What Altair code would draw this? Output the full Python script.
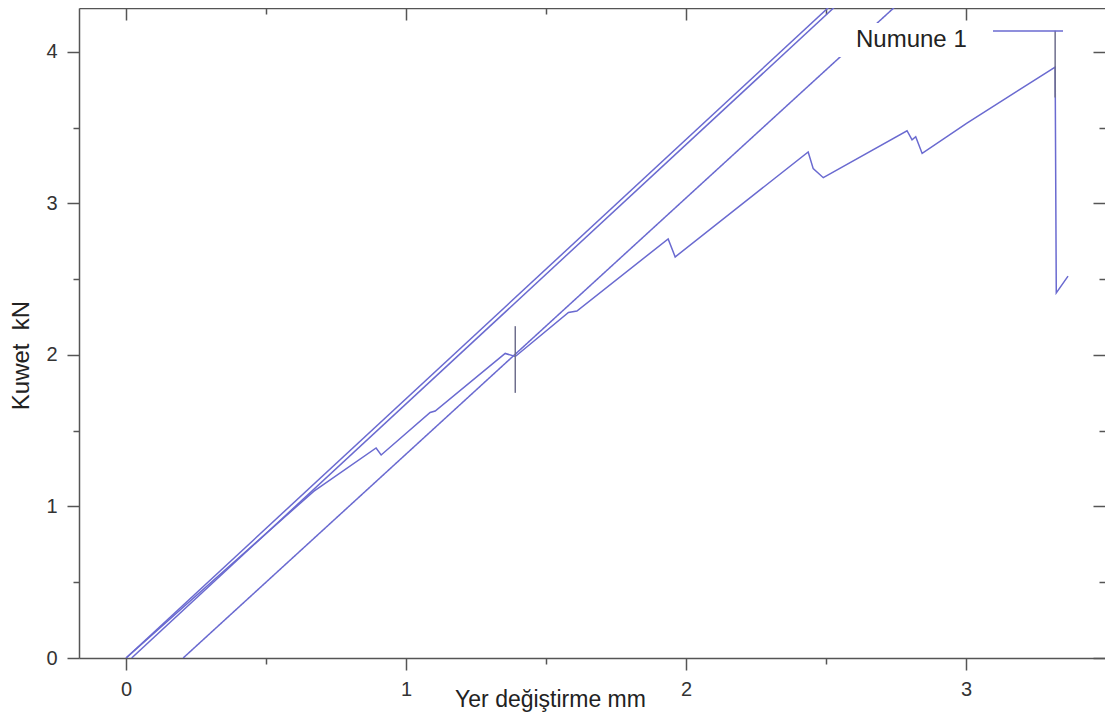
import altair as alt
import pandas as pd

# ---------------- data ----------------
# sawtooth load-displacement curve (Numune 1)
d_x = [0.0, 0.67, 0.893, 0.911, 1.086, 1.104, 1.354, 1.39, 1.58, 1.61, 1.936, 1.961,
       2.436, 2.454, 2.49, 2.789, 2.807, 2.82, 2.843, 3.003, 3.318, 3.322, 3.364]
d_y = [0.0, 1.10, 1.386, 1.34, 1.62, 1.63, 2.01, 1.99, 2.28, 2.29, 2.766, 2.647,
       3.34, 3.23, 3.17, 3.48, 3.42, 3.44, 3.33, 3.53, 3.90, 2.41, 2.52]

# straight loading lines
a_x = [0.0, 2.60]
a_y = [0.0, 4.45]
b_x = [0.02, 2.62]
b_y = [0.0, 4.45]
c_x = [0.204, 2.83]
c_y = [0.0, 4.44]

# vertical bars
e_x = [1.39, 3.318]
e_lo = [1.75, 3.70]
e_hi = [2.19, 4.14]

series_name = "Numune 1"
x_title = "Yer değiştirme mm"
y_title = "Kuwet\u00a0\u00a0kN"

x_major = [0, 1, 2, 3]
x_minor = [0.5, 1.5, 2.5]
y_major = [0, 1, 2, 3, 4]
y_minor = [0.5, 1.5, 2.5, 3.5]

X_DOMAIN = [-0.168, 3.496]
Y_DOMAIN = [0.0, 4.29]

# ---------------- tables ----------------
df_d = pd.DataFrame({"x": d_x, "y": d_y, "i": range(len(d_x)), "series": series_name})
df_ab = pd.DataFrame({
    "x": a_x + b_x,
    "y": a_y + b_y,
    "line": ["A"] * len(a_x) + ["B"] * len(b_x),
    "i": list(range(len(a_x))) + list(range(len(b_x))),
})
df_c = pd.DataFrame({"x": c_x, "y": c_y, "i": range(len(c_x)), "lbl": series_name})
df_e = pd.DataFrame({"x": e_x, "lo": e_lo, "hi": e_hi})

# ---------------- styling ----------------
FONT = "Liberation Sans"
LINE = "#6a6ad0"
AXC = "#555555"

xs = alt.Scale(domain=X_DOMAIN, nice=False, zero=False)
ys = alt.Scale(domain=Y_DOMAIN, nice=False, zero=False)

common = dict(grid=False, tickColor=AXC, tickWidth=1.5, domainColor=AXC, domainWidth=1.5)
plain = dict(labels=False, title=None, **common)

x_bottom_major = alt.Axis(
    orient="bottom", values=x_major, format="d", tickSize=12, labelPadding=9,
    labelFont=FONT, labelFontSize=20, labelColor="#333333", labelFlush=False,
    title=x_title, titleFont=FONT, titleFontSize=23, titleFontWeight="normal",
    titleColor="#222222", titleX=471, titleY=41, titleAlign="center",
    titleBaseline="middle", domain=True, **common)
x_bottom_minor = alt.Axis(orient="bottom", values=x_minor, tickSize=6, domain=False, **plain)
x_top_major = alt.Axis(orient="top", values=x_major, tickSize=alt.ExprRef(expr="-12"),
                       domain=True, **plain)
x_top_minor = alt.Axis(orient="top", values=x_minor, tickSize=alt.ExprRef(expr="-6"),
                       domain=False, **plain)

y_left_major = alt.Axis(
    orient="left", values=y_major, format="d", tickSize=12, labelPadding=10,
    labelFont=FONT, labelFontSize=20, labelColor="#333333", labelFlush=False,
    title=y_title, titleFont=FONT, titleFontSize=24, titleFontWeight="normal",
    titleColor="#222222", titleAngle=270, titleX=-58, titleY=347,
    titleAlign="center", titleBaseline="middle", domain=True, **common)
y_left_minor = alt.Axis(orient="left", values=y_minor, tickSize=6, domain=False, **plain)
y_right_major = alt.Axis(orient="right", values=y_major, tickSize=alt.ExprRef(expr="-12"),
                         domain=False, **plain)
y_right_minor = alt.Axis(orient="right", values=y_minor, tickSize=alt.ExprRef(expr="-6"),
                         domain=False, **plain)

# ---------------- layers ----------------
curve_d = alt.Chart(df_d).mark_line(strokeWidth=1.5, clip=True).encode(
    x=alt.X("x:Q", scale=xs, axis=x_bottom_major),
    y=alt.Y("y:Q", scale=ys, axis=y_left_major),
    order="i:Q",
    color=alt.Color(
        "series:N", scale=alt.Scale(range=[LINE]),
        legend=alt.Legend(
            orient="none", legendX=913, legendY=18, title=None, symbolType="stroke",
            symbolSize=4900, symbolStrokeWidth=1.5, clipHeight=10, padding=0,
            labelOpacity=0, labelFontSize=1)),
)

lines_ab = alt.Chart(df_ab).mark_line(color=LINE, strokeWidth=1.5, clip=True).encode(
    x=alt.X("x:Q", scale=xs, axis=x_bottom_minor),
    y=alt.Y("y:Q", scale=ys, axis=y_left_minor),
    detail="line:N",
    order="i:Q",
)

line_c = alt.Chart(df_c).mark_line(color=LINE, strokeWidth=1.5, clip=True).encode(
    x=alt.X("x:Q", scale=xs, axis=x_top_major),
    y=alt.Y("y:Q", scale=ys, axis=y_right_major),
    order="i:Q",
    strokeDash=alt.StrokeDash(
        "lbl:N", scale=alt.Scale(range=[[1, 0]]),
        legend=alt.Legend(
            orient="none", legendX=745, legendY=15, title=None, symbolOpacity=0,
            symbolSize=16, labelFont=FONT, labelFontSize=24, labelColor="#222222",
            labelOffset=4, clipHeight=26, fillColor="white", padding=4)),
)

bars = alt.Chart(df_e).mark_rule(color="#6e6e8c", strokeWidth=1.5, clip=True).encode(
    x=alt.X("x:Q", scale=xs, axis=x_top_minor),
    y=alt.Y("lo:Q", scale=ys, axis=y_right_minor),
    y2="hi:Q",
)

chart = (
    alt.layer(curve_d, lines_ab, line_c, bars)
    .resolve_axis(x="independent", y="independent")
    .properties(
        width=1026, height=650,
        autosize=alt.AutoSizeParams(type="none"),
        padding={"left": 71, "top": 0, "right": 0, "bottom": 54},
        background="white",
    )
    .configure_view(stroke="transparent")
)

chart.save("out.html", embed_options={"renderer": "svg", "actions": False})
